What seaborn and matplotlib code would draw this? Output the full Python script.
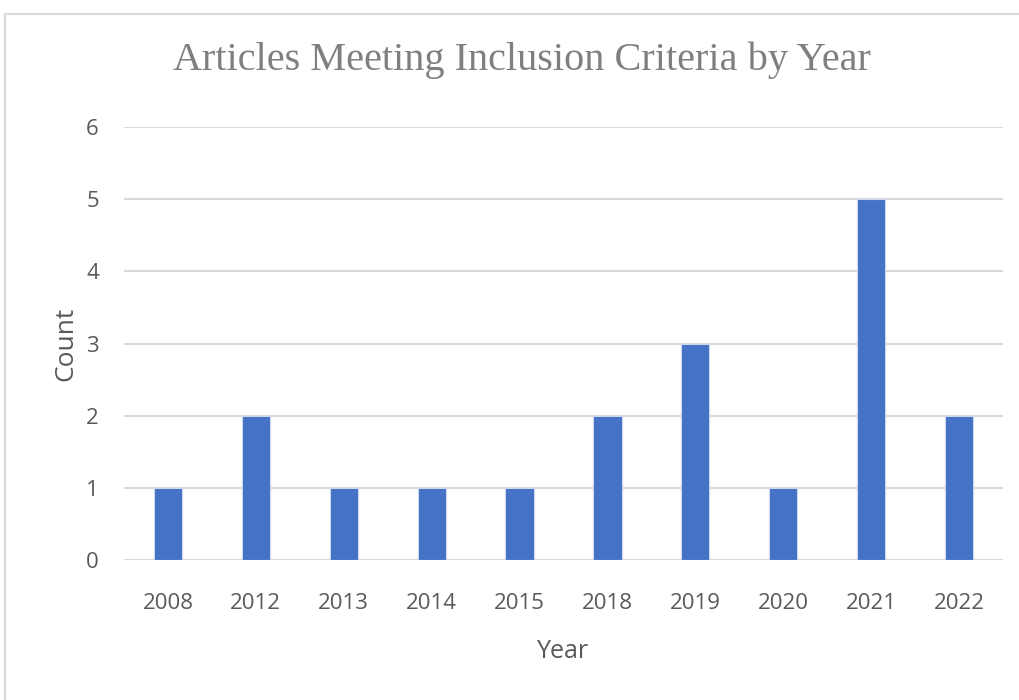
"""Bar chart of articles meeting inclusion criteria by year."""

import matplotlib
matplotlib.use("Agg")
import matplotlib.pyplot as plt
import pandas as pd
import seaborn as sns
from matplotlib.patches import Rectangle

years = ["2008", "2012", "2013", "2014", "2015", "2018", "2019", "2020", "2021", "2022"]
counts = [1, 2, 1, 1, 1, 2, 3, 1, 5, 2]
y_ticks = [0, 1, 2, 3, 4, 5, 6]

data = pd.DataFrame({"Year": years, "Count": counts})

sns.set_theme(style="white")
plt.rcParams["font.family"] = ["Open Sans", "DejaVu Sans"]

fig = plt.figure(figsize=(10.2, 7.0), dpi=100)
ax = fig.add_axes([124 / 1020, 1 - 560 / 700, (1003 - 124) / 1020, (560 - 127) / 700])

sns.barplot(data=data, x="Year", y="Count", color="#4472C4", width=0.32,
            edgecolor="#C9D6EE", linewidth=0.8, saturation=1, ax=ax, zorder=3)

ax.set_ylim(0, 6)
ax.set_yticks(y_ticks)
ax.set_xlim(-0.5, len(years) - 0.5)
ax.grid(axis="y", color="#D9D9D9", linewidth=1.5, zorder=0)
for side in ["top", "right", "left", "bottom"]:
    ax.spines[side].set_visible(False)
ax.tick_params(axis="both", length=0, labelsize=16, labelcolor="#595959")
ax.tick_params(axis="x", pad=24)
ax.tick_params(axis="y", pad=18)
ax.set_xlabel("Year", fontsize=18, color="#595959", labelpad=18)
ax.set_ylabel("Count", fontsize=19, color="#595959", labelpad=6)

fig.text(522 / 1020, 1 - 60 / 700, "Articles Meeting Inclusion Criteria by Year",
         family="Liberation Serif", fontsize=29, color="#7F7F7F", ha="center", va="center")

fig.patches.append(Rectangle((5 / 1020, -0.1), 1.2, 1 - 14 / 700 + 0.1, transform=fig.transFigure,
                             fill=False, edgecolor="#D9D9D9", linewidth=1.5))

fig.savefig("out.png", dpi=100)
